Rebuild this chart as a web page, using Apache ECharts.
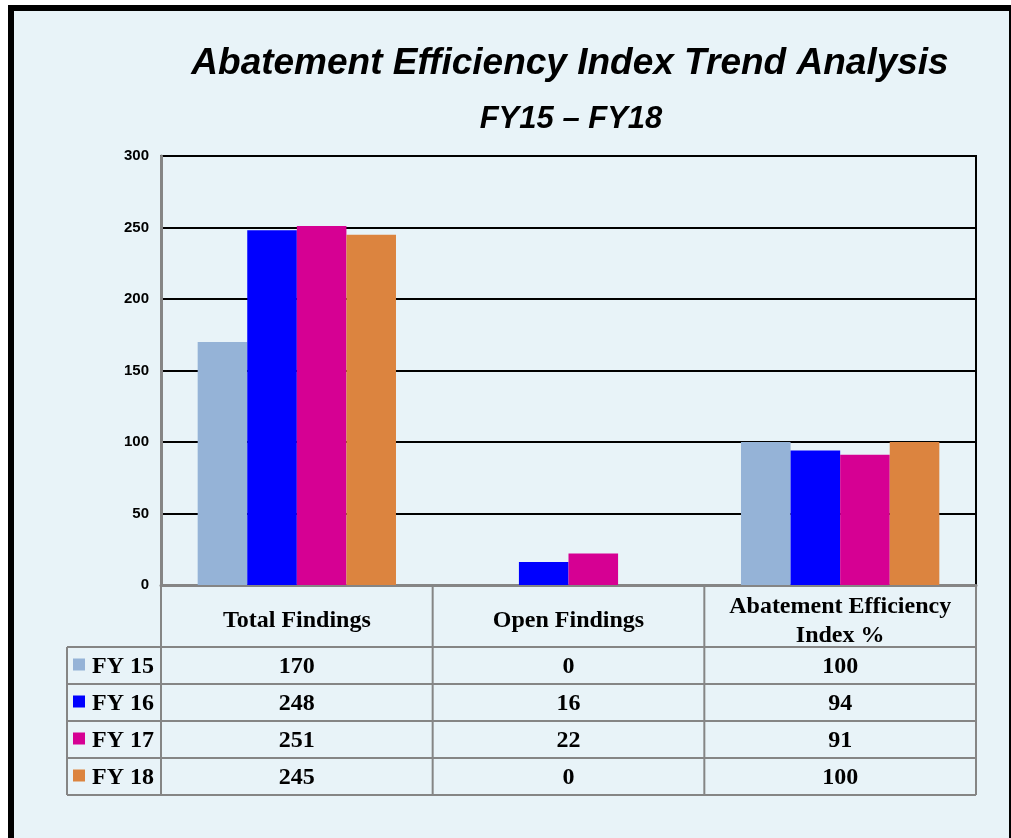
<!DOCTYPE html>
<html>
<head>
<meta charset="utf-8">
<script src="https://cdn.jsdelivr.net/npm/echarts@6/dist/echarts.min.js"></script>
<style>
  html, body { margin: 0; padding: 0; background: #fff; }
  #main1 { width: 1011px; height: 838px; }
</style>
</head>
<body>
<div id="main1"></div>
<script>
var categories = ['Total Findings', 'Open Findings', 'Abatement Efficiency\nIndex %'];
var years = ['FY 15', 'FY 16', 'FY 17', 'FY 18'];
var fy15 = [170, 0, 100];
var fy16 = [248, 16, 94];
var fy17 = [251, 22, 91];
var fy18 = [245, 0, 100];
var yTicks = [0, 50, 100, 150, 200, 250, 300];
var colors = ['#95b3d7', '#0000ff', '#d60093', '#dc843f'];

var rows = [fy15, fy16, fy17, fy18];

var myChart = echarts.init(document.getElementById('main1'));

// layout of plot + table
var gl = 161, gt = 156, gw = 815, gh = 429;
var headH = 62, rowH = 37, labelL = 67;
var lineCol = '#858585';

function buildTable() {
  var els = [];
  var colW = gw / categories.length;
  var top = gt + gh;
  var bottom = top + headH + rowH * years.length;
  // outer frame
  els.push({type: 'rect', shape: {x: 11, y: 8, width: 1001, height: 900},
    style: {fill: '#e8f3f8', stroke: '#000', lineWidth: 6}, z: -10});
  // vertical lines of data columns
  for (var i = 0; i <= categories.length; i++) {
    var x = gl + colW * i;
    els.push({type: 'line', shape: {x1: x, y1: top, x2: x, y2: bottom},
      style: {stroke: lineCol, lineWidth: 2}});
  }
  els.push({type: 'line', shape: {x1: labelL, y1: top + headH, x2: labelL, y2: bottom},
    style: {stroke: lineCol, lineWidth: 2}});
  // horizontal lines
  for (var r = 0; r <= years.length; r++) {
    var y = top + headH + rowH * r;
    els.push({type: 'line', shape: {x1: labelL, y1: y, x2: gl + gw, y2: y},
      style: {stroke: lineCol, lineWidth: 2}});
  }
  var font = {fontFamily: 'Liberation Serif', fontWeight: 'bold', fill: '#000', align: 'center', verticalAlign: 'middle'};
  // headers
  categories.forEach(function (c, i) {
    els.push({type: 'text', x: gl + colW * (i + 0.5), y: top + headH / 2 + 5,
      style: Object.assign({text: c, fontSize: 24, lineHeight: 29}, font)});
  });
  // rows
  years.forEach(function (yr, r) {
    var cy = top + headH + rowH * (r + 0.5);
    els.push({type: 'rect', shape: {x: 73, y: cy - 7, width: 12, height: 12},
      style: {fill: colors[r]}});
    els.push({type: 'text', x: 92, y: cy + 1,
      style: Object.assign({}, font, {text: yr, fontSize: 24, align: 'left'})});
    rows[r].forEach(function (v, i) {
      els.push({type: 'text', x: gl + colW * (i + 0.5), y: cy + 1,
        style: Object.assign({text: String(v), fontSize: 24}, font)});
    });
  });
  return els;
}

var seriesList = rows.map(function (d, i) {
  return {
    name: years[i],
    type: 'bar',
    data: d,
    barGap: '0%',
    barCategoryGap: '27%',
    itemStyle: {color: colors[i]},
    z: 3
  };
});

var option = {
  backgroundColor: '#fff',
  animation: false,
  title: [
    {
      text: 'Abatement Efficiency Index Trend Analysis',
      left: 565, top: 40, textAlign: 'center',
      textStyle: {fontFamily: 'Liberation Sans', fontStyle: 'italic', fontWeight: 'bold', fontSize: 37, color: '#000'}
    },
    {
      text: 'FY15 \u2013 FY18',
      left: 566, top: 99, textAlign: 'center',
      textStyle: {fontFamily: 'Liberation Sans', fontStyle: 'italic', fontWeight: 'bold', fontSize: 31, color: '#000'}
    }
  ],
  grid: {left: gl, top: gt, width: gw, height: gh, show: true, borderColor: '#000', borderWidth: 2, backgroundColor: 'transparent'},
  xAxis: {
    type: 'category',
    data: categories,
    axisLine: {lineStyle: {color: lineCol, width: 3}},
    axisTick: {show: false},
    axisLabel: {show: false}
  },
  yAxis: {
    type: 'value',
    min: yTicks[0],
    max: yTicks[yTicks.length - 1],
    interval: yTicks[1] - yTicks[0],
    axisLine: {show: true, lineStyle: {color: lineCol, width: 3}},
    axisTick: {show: false},
    axisLabel: {margin: 12, color: '#000', fontWeight: 'bold', fontSize: 15, fontFamily: 'Liberation Sans'},
    splitLine: {lineStyle: {color: '#000', width: 2}}
  },
  graphic: buildTable(),
  series: seriesList
};
myChart.setOption(option);

window.onresize = function () {
  myChart.resize();
};
</script>
</body>
</html>
